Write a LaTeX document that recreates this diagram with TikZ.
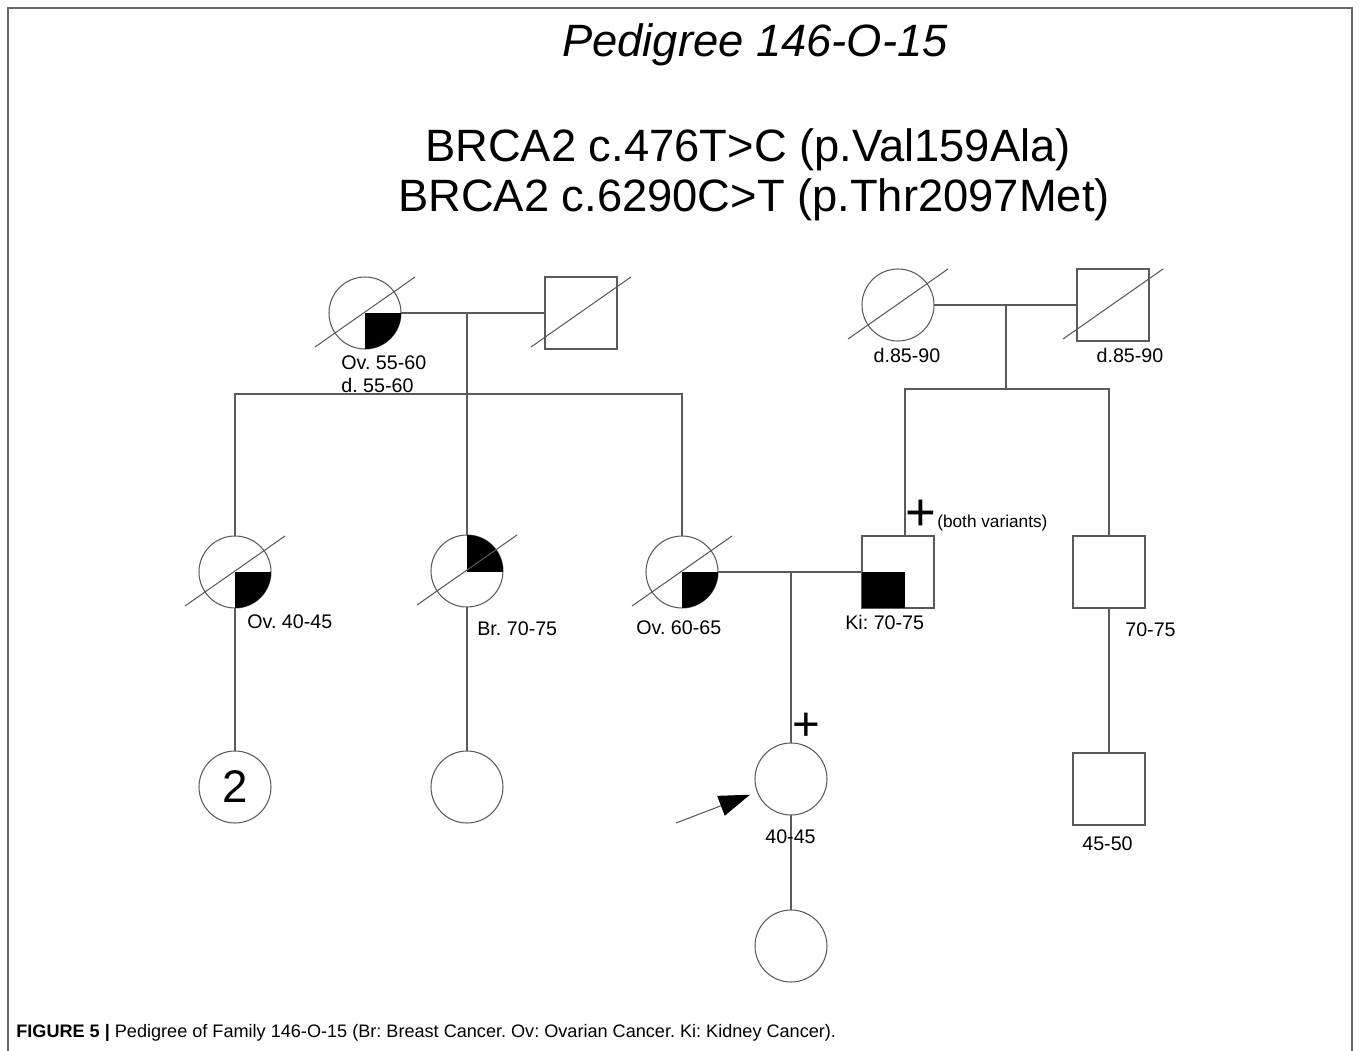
\documentclass[tikz,border=0pt]{standalone}
\usepackage{fontspec}
\setmainfont{Liberation Sans}
\usetikzlibrary{arrows.meta}
\definecolor{ln}{HTML}{5A5A5A}
\definecolor{frm}{HTML}{6A6A6A}
\frenchspacing

% slash through a deceased person
\newcommand{\dead}[1]{\draw[line] (#1.center) ++(-50,34) -- ++(100,-70);}
% black quarter of a circle (dx,dy picks the quarter)
\newcommand{\quart}[3]{\begin{scope}\clip (#1.center) rectangle ++(#2,#3); \fill (#1.center) circle[radius=36];\end{scope}}

\begin{document}
\begin{tikzpicture}[x=0.02cm,y=-0.02cm,
 female/.style={circle,draw=ln,line width=.6pt,minimum size=1.44cm,inner sep=0pt,outer sep=0pt,font=\fontsize{26}{30}\selectfont},
 male/.style={rectangle,draw=ln,line width=.6pt,minimum size=1.44cm,inner sep=0pt,outer sep=0pt},
 line/.style={ln,line width=.6pt},
 lab/.style={anchor=west,inner sep=0pt,font=\fontsize{11.2}{13.5}\selectfont},
 plus/.style={inner sep=0pt,font=\fontsize{30}{30}\selectfont}]
 \useasboundingbox (0,0) rectangle (1360,1051);
 \draw[frm,line width=1.1pt] (8,1051) -- (8,8) -- (1352,8) -- (1352,1051);
 % headings
 \node[font=\fontsize{25.8}{30}\selectfont\itshape] (ttl) at (755,45) {Pedigree 146-O-15};
 \node[font=\fontsize{25.8}{30}\selectfont] (var1) at (748,150) {BRCA2 c.476T>C (p.Val159Ala)};
 \node[font=\fontsize{25.8}{30}\selectfont] (var2) at (754,200) {BRCA2 c.6290C>T (p.Thr2097Met)};
 % generation I
 \node[female] (gm1) at (365,313) {};
 \node[male] (gf1) at (581,313) {};
 \node[female] (gm2) at (898,305) {};
 \node[male] (gf2) at (1113,305) {};
 \coordinate (d1) at (467,313); \coordinate (s1) at (467,394);
 \coordinate (d2) at (1006,305); \coordinate (s2) at (1006,389);
 % generation II
 \node[female] (aunt1) at (235,572) {};
 \node[female] (aunt2) at (467,571) {};
 \node[female] (mom) at (682,572) {};
 \node[male] (ki) at (898,572) {};
 \node[male] (bro) at (1109,572) {};
 \coordinate (d3) at (791,572);
 % generation III and IV
 \node[female] (cous) at (235,787) {2};
 \node[female] (cous2) at (467,787) {};
 \node[female] (pro) at (791,779) {};
 \node[female] (kid) at (791,946) {};
 \node[male] (nep) at (1109,789) {};
 % connectors
 \draw[line] (gm1) -- (gf1); \draw[line] (d1) -- (aunt2);
 \draw[line] (aunt1) |- (s1) -| (mom);
 \draw[line] (gm2) -- (gf2); \draw[line] (d2) -- (s2);
 \draw[line] ([xshift=0.14cm]ki.north) |- (s2) -| (bro);
 \draw[line] (mom) -- (ki); \draw[line] (d3) -- (pro); \draw[line] (pro) -- (kid);
 \draw[line] (aunt1) -- (cous); \draw[line] (aunt2) -- (cous2); \draw[line] (bro) -- (nep);
 \coordinate (arr) at (676,823);
 \draw[line,-{Triangle[length=0.62cm,width=0.42cm,black]},shorten >=0.16cm] (arr) -- (pro);
 % affected parts
 \quart{gm1}{40}{40} \quart{aunt1}{40}{40} \quart{aunt2}{40}{-40} \quart{mom}{40}{40}
 \fill (ki.west) rectangle ++(43,36);
 \foreach \p in {gm1,gf1,gm2,gf2,aunt1,aunt2,mom}{\dead{\p}}
 % labels
 \node[lab,anchor=north west,align=left] (l1) at (341,355) {Ov. 55-60\\d. 55-60};
 \node[lab,anchor=center] (l2) at (907,355) {d.85-90};
 \node[lab,anchor=center] (l3) at (1130,355) {d.85-90};
 \node[lab] (l4) at (247,622) {Ov. 40-45};
 \node[lab] (l5) at (477,629) {Br. 70-75};
 \node[lab] (l6) at (636,628) {Ov. 60-65};
 \node[lab] (l7) at (845,622) {Ki: 70-75};
 \node[lab] (l8) at (1125,630) {70-75};
 \node[lab] (l9) at (1082,844) {45-50};
 \node[lab] (l10) at (765,837) {40-45};
 \node[plus] (p1) at (921,515) {+};
 \node[lab,font=\fontsize{9.8}{12}\selectfont] (both) at (937,523) {(both variants)};
 \node[plus,font=\fontsize{27}{27}\selectfont] (p2) at (806,727) {+};
 % caption
 \node[anchor=west,inner sep=0pt,font=\fontsize{10.3}{12}\selectfont] (cap) at (16,1033)
  {\textbf{FIGURE 5 |} Pedigree of Family 146-O-15 (Br: Breast Cancer. Ov: Ovarian Cancer. Ki: Kidney Cancer).};
\end{tikzpicture}
\end{document}
